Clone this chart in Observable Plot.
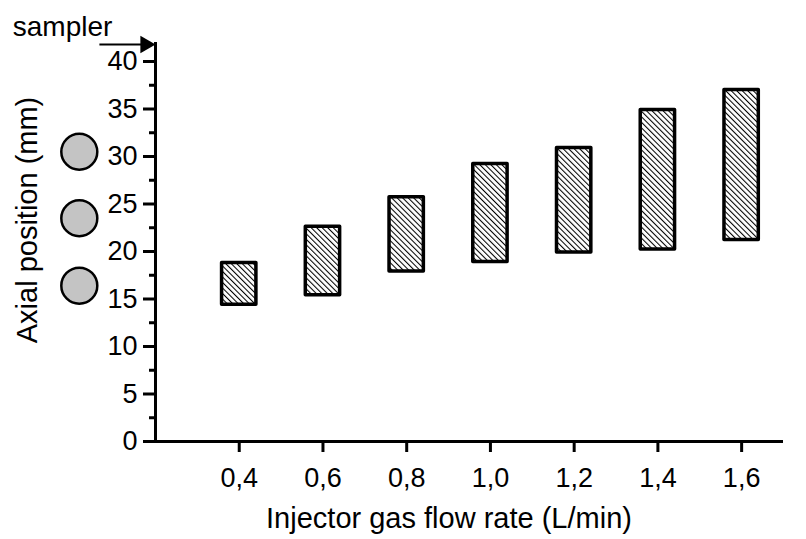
<!DOCTYPE html>
<html>
<head>
<meta charset="utf-8">
<script src="https://cdn.jsdelivr.net/npm/d3@7"></script>
<script src="https://cdn.jsdelivr.net/npm/@observablehq/plot@0.6"></script>
<style>
  html, body { margin: 0; padding: 0; background: #fff; }
  svg { font-family: "Liberation Sans", Arial, sans-serif; }
</style>
</head>
<body>
<div id="chart"></div>
<script>
// Data
const rates = [0.4, 0.6, 0.8, 1.0, 1.2, 1.4, 1.6];
const lowPos = [14.4, 15.4, 17.9, 18.9, 19.9, 20.2, 21.2];
const highPos = [18.8, 22.6, 25.7, 29.2, 30.9, 34.9, 37.0];
const yTicks = [0, 5, 10, 15, 20, 25, 30, 35, 40];
const yMinorTicks = [2.5, 7.5, 12.5, 17.5, 22.5, 27.5, 32.5, 37.5];
// Sampler cone annotation (circles at the left, arrow at top)
const coneX = [0.018, 0.018, 0.018];
const coneY = [30.5, 23.5, 16.4];
const samplerLabel = ["sampler"];
const samplerLabelX = [-0.022];
const samplerLabelY = [43.6];
const arrowX1 = [0.066];
const arrowX2 = [0.19];
const arrowY = [41.8];

const bars = rates.map((r, i) => ({rate: r, lo: lowPos[i], hi: highPos[i]}));
const cones = coneX.map((x, i) => ({x, y: coneY[i]}));
const labels = samplerLabel.map((t, i) => ({t, x: samplerLabelX[i], y: samplerLabelY[i]}));
const arrows = arrowX1.map((x1, i) => ({x1, x2: arrowX2[i], y: arrowY[i]}));

const halfW = 0.041;
const fmt = d => d.toFixed(1).replace(".", ",");

const svg = Plot.plot({
  width: 806,
  height: 539,
  marginLeft: 155,
  marginRight: 23,
  marginTop: 42,
  marginBottom: 98,
  style: {fontFamily: "'Liberation Sans', Arial, sans-serif", background: "#fff", overflow: "visible"},
  x: {domain: [0.2, 1.7]},
  y: {domain: [0, 42]},
  marks: [
    // bars
    Plot.rect(bars, {
      x1: d => d.rate - halfW, x2: d => d.rate + halfW,
      y1: "lo", y2: "hi",
      fill: "url(#hatch)", stroke: "black", strokeWidth: 3.5, strokeLinejoin: "round"
    }),
    // axes lines
    Plot.ruleX([0.2], {y1: 0, y2: 42, strokeWidth: 3}),
    Plot.ruleY([0], {x1: 0.2, x2: 1.7, strokeWidth: 3}),
    // y axis
    Plot.axisY({ticks: yTicks, tickSize: 12, tickPadding: 6, fontSize: 27, strokeWidth: 3, label: null, color: "#000"}),
    Plot.axisY({ticks: yMinorTicks, tickSize: 6, text: null, strokeWidth: 3, label: null}),
    // x axis
    Plot.axisX({ticks: rates, tickFormat: fmt, tickSize: 11, tickPadding: 15, fontSize: 27, strokeWidth: 3, label: null, color: "#000"}),
    // annotations
    Plot.dot(cones, {x: "x", y: "y", r: 18, fill: "#c4c4c4", stroke: "black", strokeWidth: 2.5, clip: false}),
    Plot.text(labels, {x: "x", y: "y", text: "t", fontSize: 28, fill: "black", clip: false}),
    Plot.link(arrows, {x1: "x1", x2: d => d.x2 - 0.024, y1: "y", y2: "y", stroke: "black", strokeWidth: 2, clip: false}),
    Plot.dot(arrows, {x: d => d.x2 - 0.014, y: "y", symbol: "triangle", rotate: 90, r: 6.5, fill: "black", clip: false})
  ]
});

d3.select(svg).insert("defs", ":first-child").html(`
  <pattern id="hatch" patternUnits="userSpaceOnUse" width="3.9" height="3.9" patternTransform="rotate(-45)">
    <rect width="3.9" height="3.9" fill="white"/>
    <line x1="0" y1="0" x2="0" y2="3.9" stroke="black" stroke-width="2.1"/>
  </pattern>`);

// axis titles
const s = d3.select(svg);
s.append("text")
  .attr("transform", "translate(37,220) rotate(-90)")
  .attr("text-anchor", "middle")
  .attr("font-size", 29)
  .attr("fill", "black")
  .text("Axial position (mm)");
s.append("text")
  .attr("x", 449)
  .attr("y", 528)
  .attr("text-anchor", "middle")
  .attr("font-size", 29)
  .attr("fill", "black")
  .text("Injector gas flow rate (L/min)");

document.getElementById("chart").appendChild(svg);
</script>
</body>
</html>
